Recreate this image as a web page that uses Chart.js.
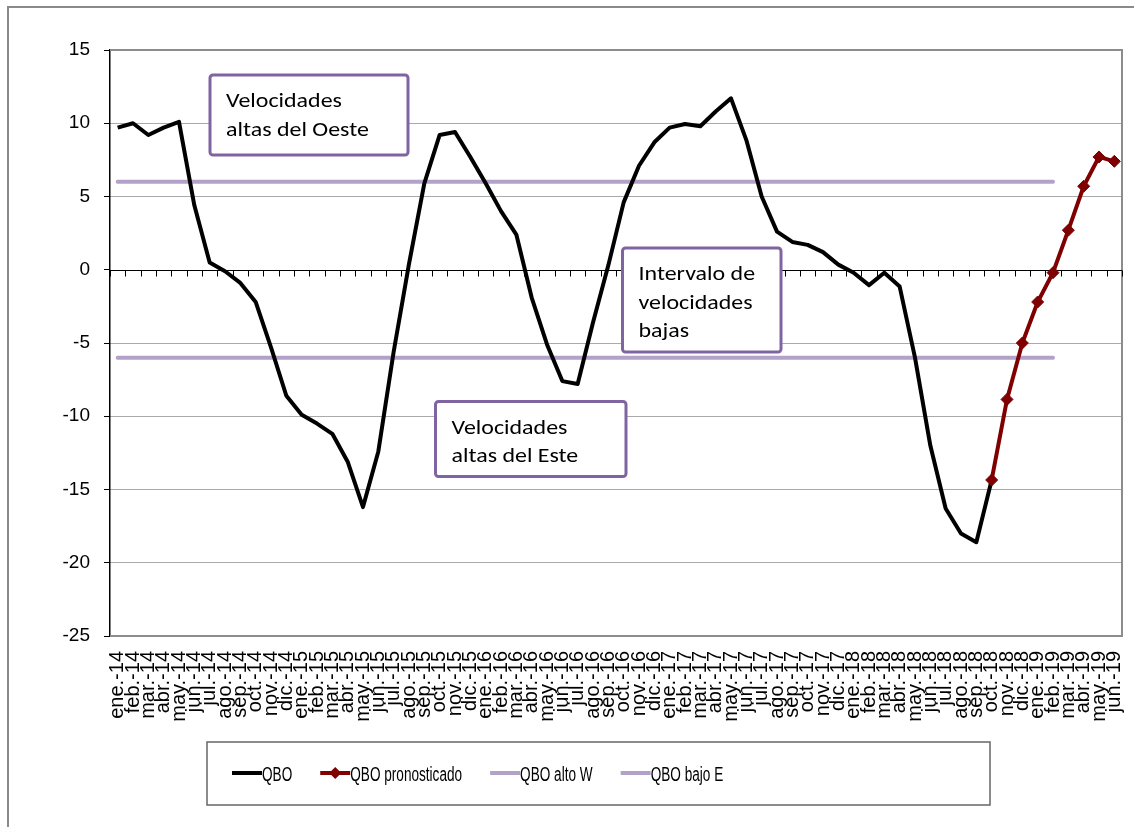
<!DOCTYPE html>
<html>
<head>
<meta charset="utf-8">
<script src="https://cdn.jsdelivr.net/npm/chart.js@4.4.0/dist/chart.umd.min.js"></script>
<style>
  html, body { margin: 0; padding: 0; background: #fff; }
  #wrap { width: 1134px; height: 827px; }
</style>
</head>
<body>
<div id="wrap"><canvas id="chart"></canvas></div>
<script>
// categories: months from ene.-14 to jun.-19
const monthNames = ["ene.", "feb.", "mar.", "abr.", "may.", "jun.", "jul.", "ago.", "sep.", "oct.", "nov.", "dic."];
const years = ["14", "15", "16", "17", "18", "19"];
const monthsIn2019 = 6;

// observed QBO, ene.-14 .. oct.-18
const qbo = [
  9.7, 10.0, 9.2, 9.7, 10.1, 4.4, 0.5, -0.1, -0.9, -2.2, -5.3, -8.6,
  -9.9, -10.5, -11.2, -13.1, -16.2, -12.4, -5.6, 0.4, 5.9, 9.2, 9.4, 7.7,
  5.9, 4.0, 2.4, -1.9, -5.1, -7.6, -7.8, -3.6, 0.3, 4.6, 7.1, 8.7,
  9.7, 9.95, 9.8, 10.8, 11.7, 8.85, 5.0, 2.6, 1.9, 1.7, 1.2, 0.35,
  -0.2, -1.05, -0.2, -1.15, -6.0, -12.0, -16.3, -18.0, -18.6, -14.35
];
// forecast, oct.-18 .. jun.-19
const qboForecast = [-14.35, -8.85, -5.0, -2.2, -0.2, 2.7, 5.7, 7.7, 7.4];

// threshold lines, drawn ene.-14 .. feb.-19
const altoW = 6;
const bajoE = -6;
const thresholdLastLabel = "feb.-19";

const yTicks = { min: -25, max: 15, step: 5 };

const labels = [];
years.forEach((yy, k) => {
  monthNames.forEach((m, j) => {
    if (k < years.length - 1 || j < monthsIn2019) labels.push(m + "-" + yy);
  });
});

const n = labels.length;
const qboData = labels.map((_, i) => (i < qbo.length ? qbo[i] : null));
const forecastStart = n - qboForecast.length;
const forecastData = labels.map((_, i) => (i >= forecastStart ? qboForecast[i - forecastStart] : null));
const thrEnd = labels.indexOf(thresholdLastLabel);
const wData = labels.map((_, i) => (i <= thrEnd ? altoW : null));
const eData = labels.map((_, i) => (i <= thrEnd ? bajoE : null));

const notes = [
  { lines: ["Velocidades", "altas del Oeste"], x: 210, y: 75, w: 198, h: 80 },
  { lines: ["Intervalo de", "velocidades", "bajas"], x: 622.5, y: 248, w: 158.5, h: 104 },
  { lines: ["Velocidades", "altas del Este"], x: 435.5, y: 401.5, w: 190.5, h: 75 }
];

const framePlugin = {
  id: "frame",
  beforeDraw(chart) {
    const c = chart.ctx;
    c.save();
    c.fillStyle = "#fff";
    c.fillRect(0, 0, chart.width, chart.height);
    c.restore();
  },
  beforeDatasetsDraw(chart) {
    const c = chart.ctx;
    const a = chart.chartArea;
    const xs = chart.scales.x;
    const ys = chart.scales.y;
    c.save();
    // plot border (top, right, bottom)
    c.strokeStyle = "#8c8c8c";
    c.lineWidth = 2;
    c.beginPath();
    c.moveTo(a.left, a.top);
    c.lineTo(a.right, a.top);
    c.lineTo(a.right, a.bottom);
    c.lineTo(a.left, a.bottom);
    c.stroke();
    // zero axis with category ticks
    const y0 = Math.round(ys.getPixelForValue(0)) + 0.5;
    c.strokeStyle = "#000";
    c.lineWidth = 1;
    c.beginPath();
    c.moveTo(a.left, y0);
    c.lineTo(a.right, y0);
    const step = xs.getPixelForValue(1) - xs.getPixelForValue(0);
    for (let i = 0; i <= n; i++) {
      const x = Math.round(xs.getPixelForValue(i) - step / 2) + 0.5;
      c.moveTo(x, y0);
      c.lineTo(x, y0 + 6);
    }
    c.stroke();
    c.restore();
  },
  afterDraw(chart) {
    const c = chart.ctx;
    c.save();
    // outer chart border
    c.strokeStyle = "#8a8a8a";
    c.lineWidth = 2;
    c.strokeRect(8, 7, 1200, 900);

    // text boxes
    notes.forEach(b => {
      c.beginPath();
      c.roundRect(b.x, b.y, b.w, b.h, 3);
      c.fillStyle = "#fff";
      c.fill();
      c.strokeStyle = "#8064a2";
      c.lineWidth = 3;
      c.stroke();
      c.fillStyle = "#000";
      c.font = "21px Carlito, Lato, sans-serif";
      c.textBaseline = "alphabetic";
      c.textAlign = "left";
      b.lines.forEach((t, k) => {
        c.save();
        c.translate(b.x + 16, b.y + 32 + k * 28.5);
        c.scale(1.14, 1);
        c.fillText(t, 0, 0);
        c.restore();
      });
    });

    // legend
    c.strokeStyle = "#666";
    c.lineWidth = 1.5;
    c.strokeRect(207, 742, 783, 63);
    let x = 232;
    const ly = 773;
    const sx = 0.68;
    c.font = "20px 'Liberation Sans', Arial, sans-serif";
    c.textBaseline = "alphabetic";
    chart.data.datasets.forEach(ds => {
      c.strokeStyle = ds.borderColor;
      c.lineWidth = 4;
      c.lineCap = "butt";
      c.beginPath();
      c.moveTo(x, ly);
      c.lineTo(x + 30, ly);
      c.stroke();
      if (ds.pointRadius > 0) {
        const r = ds.pointRadius;
        c.fillStyle = ds.backgroundColor;
        c.beginPath();
        c.moveTo(x + 15, ly - r);
        c.lineTo(x + 15 + r, ly);
        c.lineTo(x + 15, ly + r);
        c.lineTo(x + 15 - r, ly);
        c.closePath();
        c.fill();
      }
      const tw = c.measureText(ds.label).width * sx;
      c.save();
      c.translate(x + 30, ly + 8);
      c.scale(sx, 1);
      c.fillStyle = "#000";
      c.fillText(ds.label, 0, 0);
      c.restore();
      x += 30 + tw + 28;
    });
    c.restore();
  }
};

const ctx = document.getElementById("chart").getContext("2d");
const qboChart = new Chart(ctx, {
  type: "line",
  data: {
    labels: labels,
    datasets: [
      {
        label: "QBO",
        data: qboData,
        borderColor: "#000000",
        backgroundColor: "#000000",
        borderWidth: 4,
        pointRadius: 0,
        borderJoinStyle: "round",
        order: 2
      },
      {
        label: "QBO pronosticado",
        data: forecastData,
        borderColor: "#7f0000",
        backgroundColor: "#7f0000",
        borderWidth: 4,
        pointStyle: "rectRot",
        pointRadius: 6,
        pointHoverRadius: 6,
        pointBorderWidth: 1,
        order: 1
      },
      {
        label: "QBO alto W",
        data: wData,
        borderColor: "#b3a2c7",
        backgroundColor: "#b3a2c7",
        borderWidth: 4,
        pointRadius: 0,
        borderCapStyle: "round",
        order: 3
      },
      {
        label: "QBO bajo E",
        data: eData,
        borderColor: "#b3a2c7",
        backgroundColor: "#b3a2c7",
        borderWidth: 4,
        pointRadius: 0,
        borderCapStyle: "round",
        order: 4
      }
    ]
  },
  options: {
    responsive: true,
    maintainAspectRatio: false,
    animation: false,
    layout: { padding: { left: 0, top: 50, right: 12, bottom: 91 } },
    plugins: {
      legend: { display: false },
      tooltip: { enabled: false }
    },
    scales: {
      x: {
        offset: true,
        grid: { display: false, drawTicks: false },
        border: { display: false },
        ticks: {
          autoSkip: false,
          maxRotation: 90,
          minRotation: 90,
          padding: 15,
          color: "#000",
          font: { family: "'Liberation Sans', Arial, sans-serif", size: 20 }
        },
        afterFit: s => {
          s.height = 100;
          s.paddingLeft = 0;
          s.paddingRight = 0;
        }
      },
      y: {
        min: yTicks.min,
        max: yTicks.max,
        ticks: {
          stepSize: yTicks.step,
          padding: 14,
          color: "#000",
          font: { family: "'Liberation Sans', Arial, sans-serif", size: 19 }
        },
        grid: {
          color: c => {
            const v = c.tick ? c.tick.value : null;
            return (v === yTicks.max || v === yTicks.min || v === 0) ? "rgba(0,0,0,0)" : "#555";
          },
          lineWidth: 1,
          tickColor: "#000",
          tickLength: 6,
          tickWidth: 1,
          tickBorderDash: []
        },
        border: { color: "#000", width: 1.5, dash: [1, 1] },
        afterFit: s => {
          s.width = 110;
          s.paddingTop = 0;
          s.paddingBottom = 0;
        }
      }
    }
  },
  plugins: [framePlugin]
});
</script>
</body>
</html>
